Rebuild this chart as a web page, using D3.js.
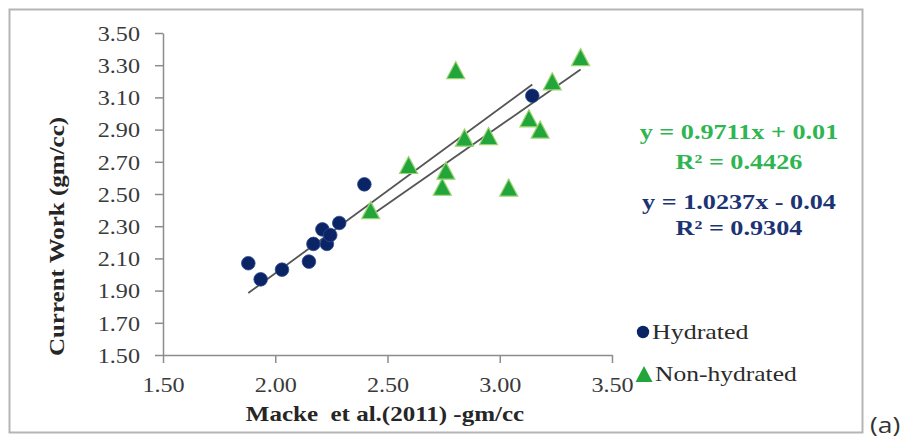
<!DOCTYPE html>
<html>
<head>
<meta charset="utf-8">
<script src="https://cdn.jsdelivr.net/npm/d3@7"></script>
<style>
  html, body { margin: 0; padding: 0; background: #fff; }
  svg { display: block; }
  svg text { font-family: "Liberation Serif", "Times New Roman", "DejaVu Serif", serif; white-space: pre; }
</style>
</head>
<body>
<svg id="chart" width="906" height="440"></svg>
<script>
// Density pairs: Macke et al. (2011) vs. current work
const hydratedX = [1.88, 1.935, 2.03, 2.15, 2.17, 2.21, 2.23, 2.245, 2.285, 2.397, 3.145];
const hydratedY = [2.07, 1.97, 2.03, 2.08, 2.19, 2.28, 2.19, 2.245, 2.32, 2.56, 3.11];
const nonHydratedX = [2.425, 2.594, 2.744, 2.76, 2.804, 2.843, 2.95, 3.04, 3.13, 3.18, 3.234, 3.36];
const nonHydratedY = [2.40, 2.68, 2.545, 2.645, 3.27, 2.85, 2.86, 2.54, 2.97, 2.90, 3.20, 3.35];

// Linear fits (slope, intercept, R²)
const hydratedFit = [1.0237, -0.04, 0.9304];
const nonHydratedFit = [0.9711, 0.01, 0.4426];

const xTicks = [1.5, 2.0, 2.5, 3.0, 3.5];
const yTicks = [1.5, 1.7, 1.9, 2.1, 2.3, 2.5, 2.7, 2.9, 3.1, 3.3, 3.5];
const seriesNames = ["Hydrated", "Non-hydrated"];

const navy = "#0b2466";
const green = "#22a63c";
const greenEdge = "#9ad46f";
const eqGreen = "#2fb552";
const eqNavy = "#1c3473";

const svg = d3.select("#chart");

// widen glyphs horizontally, the way the figure's type is set
function widen(sel, k) {
  sel.each(function () {
    const w = this.getComputedTextLength();
    d3.select(this).attr("textLength", w * k).attr("lengthAdjust", "spacingAndGlyphs");
  });
}

// outer frame
svg.append("rect")
  .attr("x", 9.5).attr("y", 9.5)
  .attr("width", 853).attr("height", 423)
  .attr("fill", "none").attr("stroke", "#b5b5b5").attr("stroke-width", 2);

const x = d3.scaleLinear().domain([1.5, 3.5]).range([163, 612]);
const y = d3.scaleLinear().domain([1.5, 3.5]).range([355, 33]);

// axes
const xAxis = svg.append("g")
  .attr("transform", `translate(0,${y(1.5)})`)
  .call(d3.axisBottom(x).tickValues(xTicks).tickFormat(d3.format(".2f")).tickSize(8).tickSizeOuter(0).tickPadding(14));
const yAxis = svg.append("g")
  .attr("transform", `translate(${x(1.5)},0)`)
  .call(d3.axisLeft(y).tickValues(yTicks).tickFormat(d3.format(".2f")).tickSize(8).tickSizeOuter(0).tickPadding(15));

[xAxis, yAxis].forEach(g => {
  g.attr("font-family", null).attr("font-size", 21);
  g.select(".domain").attr("stroke", "#8c8c8c").attr("stroke-width", 1.5);
  g.selectAll(".tick line").attr("stroke", "#8c8c8c").attr("stroke-width", 1.5);
  g.selectAll(".tick text").attr("fill", "#3a3a3a");
});
yAxis.selectAll(".tick text").attr("dy", "0.35em");
widen(xAxis.selectAll(".tick text"), 1.15);
widen(yAxis.selectAll(".tick text"), 1.15);

// axis titles
const xTitle = svg.append("text")
  .attr("x", 385).attr("y", 421)
  .attr("text-anchor", "middle")
  .attr("fill", "#262626")
  .attr("font-size", 21).attr("font-weight", "bold")
  .text("Macke  et al.(2011) -gm/cc");
widen(xTitle, 1.19);

const yTitle = svg.append("text")
  .attr("transform", `translate(64,${(115 + 358) / 2}) rotate(-90)`)
  .attr("text-anchor", "middle")
  .attr("fill", "#262626")
  .attr("font-size", 21).attr("font-weight", "bold")
  .text("Current Work (gm/cc)");
widen(yTitle, 1.19);

// trend lines, each spanning its series' x range
function fitLine(xs, fit) {
  const x0 = d3.min(xs), x1 = d3.max(xs);
  return [[x0, fit[0] * x0 + fit[1]], [x1, fit[0] * x1 + fit[1]]];
}
const line = d3.line().x(d => x(d[0])).y(d => y(d[1]));
[fitLine(hydratedX, hydratedFit), fitLine(nonHydratedX, nonHydratedFit)].forEach(pts => {
  svg.append("path")
    .attr("d", line(pts))
    .attr("fill", "none")
    .attr("stroke", "#555555")
    .attr("stroke-width", 1.8);
});

// triangle marker centred on its box
function triangle(w, h) {
  return `M0,${-h / 2}L${w / 2},${h / 2}L${-w / 2},${h / 2}Z`;
}

// non-hydrated markers
svg.append("g").selectAll("path")
  .data(nonHydratedX.map((v, i) => [v, nonHydratedY[i]]))
  .join("path")
  .attr("transform", d => `translate(${x(d[0])},${y(d[1])})`)
  .attr("d", triangle(18, 17))
  .attr("fill", green)
  .attr("stroke", greenEdge)
  .attr("stroke-width", 1.2);

// hydrated markers
svg.append("g").selectAll("circle")
  .data(hydratedX.map((v, i) => [v, hydratedY[i]]))
  .join("circle")
  .attr("cx", d => x(d[0]))
  .attr("cy", d => y(d[1]))
  .attr("r", 6.8)
  .attr("fill", navy)
  .attr("stroke", "#2a4a8f")
  .attr("stroke-width", 0.8);

// regression equations
const fmt4 = d3.format(".4f");
function eqText(fit) {
  const sign = fit[1] < 0 ? "-" : "+";
  return `y = ${fmt4(fit[0])}x ${sign} ${Math.abs(fit[1]).toFixed(2)}`;
}
const eqs = [
  { text: eqText(nonHydratedFit), y: 139, color: eqGreen },
  { text: `R² = ${fmt4(nonHydratedFit[2])}`, y: 169, color: eqGreen },
  { text: eqText(hydratedFit), y: 209, color: eqNavy },
  { text: `R² = ${fmt4(hydratedFit[2])}`, y: 235, color: eqNavy }
];
eqs.forEach(e => {
  const t = svg.append("text")
    .attr("x", 739).attr("y", e.y)
    .attr("text-anchor", "middle")
    .attr("fill", e.color)
    .attr("font-size", 22).attr("font-weight", "bold")
    .text(e.text);
  widen(t, 1.19);
});

// legend
const legend = svg.append("g");
legend.append("circle").attr("cx", 643).attr("cy", 332).attr("r", 6.2).attr("fill", navy);
legend.append("path")
  .attr("transform", "translate(644,374)")
  .attr("d", triangle(17, 16))
  .attr("fill", green);
const l1 = legend.append("text")
  .attr("x", 652).attr("y", 339)
  .attr("fill", "#2b2b2b")
  .attr("font-size", 22)
  .text(seriesNames[0]);
const l2 = legend.append("text")
  .attr("x", 655).attr("y", 381)
  .attr("fill", "#2b2b2b")
  .attr("font-size", 22)
  .text(seriesNames[1]);
widen(l1, 1.18);
widen(l2, 1.16);

// panel label
const panel = svg.append("text")
  .attr("x", 870).attr("y", 433)
  .attr("fill", "#333")
  .style("font-family", "'Open Sans', 'DejaVu Sans', sans-serif")
  .attr("font-size", 22)
  .text("(a)");
widen(panel, 1.2);
</script>
</body>
</html>
